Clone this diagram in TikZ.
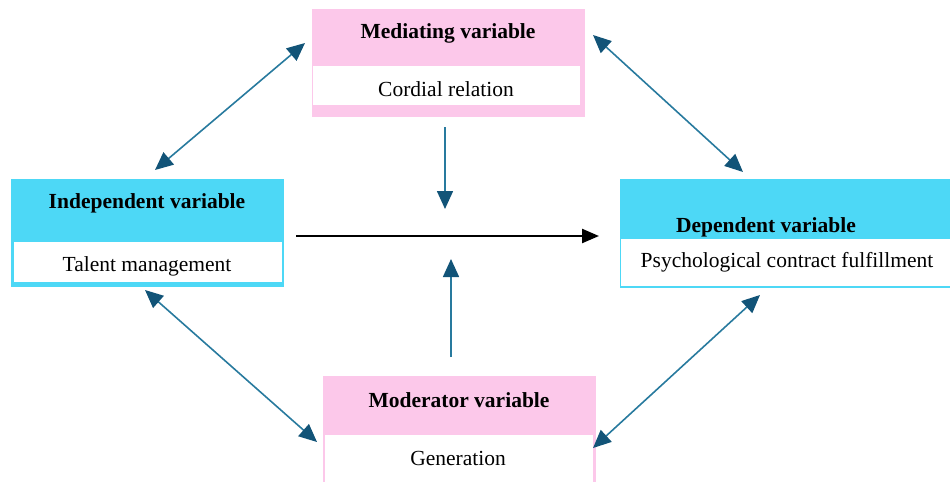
\documentclass[tikz,border=0pt]{standalone}
\usepackage{fontspec}
\setmainfont{Liberation Serif}
\usetikzlibrary{arrows.meta}

\definecolor{boxcyan}{RGB}{77,216,246}
\definecolor{boxpink}{RGB}{252,200,234}
\definecolor{linkblue}{RGB}{40,122,158}
\definecolor{tipblue}{RGB}{18,84,120}

\begin{document}
\begin{tikzpicture}[x=1pt, y=-1pt]
    \tikzstyle{every node}=[font=\fontsize{21.5}{26}\selectfont, inner sep=0pt]
    \tikzstyle{outerbox} = [rectangle, anchor=north west]
    \tikzstyle{innerbox} = [rectangle, fill=white, anchor=north west]
    \tikzstyle{title} = [font=\fontsize{21.5}{26}\selectfont\bfseries]
    \tikzstyle{link} = [draw=linkblue, line width=1.6pt,
        {Triangle[length=18pt,width=16pt,color=tipblue]}-{Triangle[length=18pt,width=16pt,color=tipblue]}]
    \tikzstyle{onelink} = [draw=linkblue, line width=1.6pt, -{Triangle[length=18pt,width=16pt,color=tipblue]}]
    \useasboundingbox (0,0) rectangle (950,482);

    % mediating
    \node[outerbox, fill=boxpink, minimum width=273, minimum height=108] (med) at (312,9) {};
    \node[innerbox, minimum width=267, minimum height=39] (medin) at (313,66) {};
    \node[title] (medtitle) at (448,33) {Mediating variable};
    \node (medtext) at (446,89) {Cordial relation};

    % independent
    \node[outerbox, fill=boxcyan, minimum width=273, minimum height=108] (ind) at (11,179) {};
    \node[innerbox, minimum width=268, minimum height=40] (indin) at (14,242) {};
    \node[title] (indtitle) at (147,203) {Independent variable};
    \node (indtext) at (147,266) {Talent management};

    % dependent
    \node[outerbox, fill=boxcyan, minimum width=330, minimum height=109] (dep) at (620,179) {};
    \node[innerbox, minimum width=329, minimum height=47] (depin) at (621,239) {};
    \node[title] (deptitle) at (766,227) {Dependent variable};
    \node (deptext) at (787,262) {Psychological contract fulfillment};

    % moderator
    \node[outerbox, fill=boxpink, minimum width=273, minimum height=106] (mod) at (323,376) {};
    \node[innerbox, minimum width=268, minimum height=47] (modin) at (325,435) {};
    \node[title] (modtitle) at (459,400) {Moderator variable};
    \node (modtext) at (458,458) {Generation};

    % arrow ends
    \coordinate (im1) at (155,170);
    \coordinate (im2) at (305,43);
    \coordinate (md1) at (593,35);
    \coordinate (md2) at (743,172);
    \coordinate (io1) at (145,290);
    \coordinate (io2) at (317,442);
    \coordinate (do1) at (760,295);
    \coordinate (do2) at (593,448);
    \coordinate (down1) at (445,127);
    \coordinate (down2) at (445,209);
    \coordinate (up1) at (451,357);
    \coordinate (up2) at (451,259);
    \coordinate (main1) at (296,236);
    \coordinate (main2) at (599,236);

    \draw[link] (im1) -- (im2);
    \draw[link] (md1) -- (md2);
    \draw[link] (io1) -- (io2);
    \draw[link] (do1) -- (do2);
    \draw[onelink] (down1) -- (down2);
    \draw[onelink] (up1) -- (up2);
    \draw[line width=2.4pt, -{Triangle[length=17pt,width=14pt]}] (main1) -- (main2);
\end{tikzpicture}
\end{document}
